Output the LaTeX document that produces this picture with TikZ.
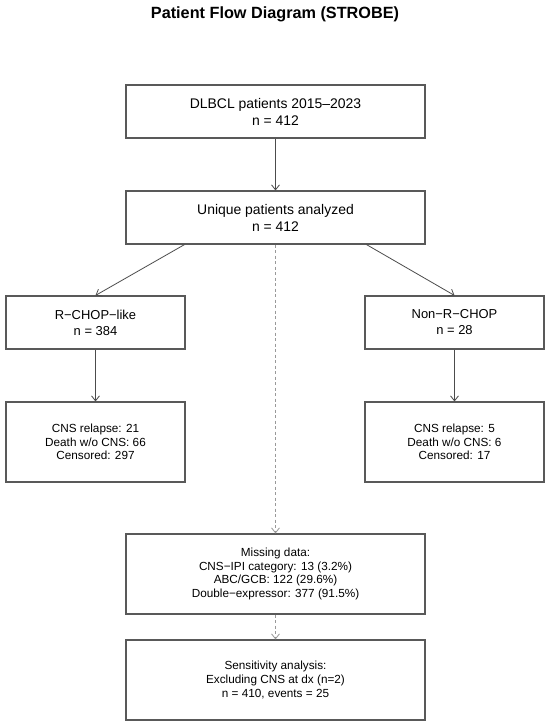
\documentclass[tikz,border=0pt]{standalone}
\usepackage{fontspec}
\setmainfont{Liberation Sans}
\usetikzlibrary{arrows.meta,calc}
\tikzset{
  box/.style={draw=black!65, line width=1.1bp, inner sep=0pt, align=center, fill=white},
  bigbox/.style={box, minimum width=299bp, minimum height=53bp, font=\fontsize{14}{17}\selectfont},
  midbox/.style={box, minimum width=179bp, minimum height=53bp, font=\fontsize{13}{16}\selectfont},
  smallbox/.style={box, minimum height=80bp, font=\fontsize{11.8}{13.8}\selectfont},
  flow/.style={draw=black!70, line width=0.8bp, -{Straight Barb[length=5bp,width=8bp]}},
  dflow/.style={draw=black!40, line width=0.8bp, dash pattern=on 3bp off 2.5bp, -{Straight Barb[length=5bp,width=8bp]}},
  titletext/.style={font=\fontsize{16.3}{19}\selectfont\bfseries}
}
\begin{document}
\begin{tikzpicture}[x=1bp, y=-1bp]
\useasboundingbox[fill=white] (0,0) rectangle (550,726);
\node[titletext] (title) at (275,14) {Patient Flow Diagram (STROBE)};
\node[bigbox] (b1) at (275.5,111.5) {DLBCL patients 2015–2023\\n = 412};
\node[bigbox] (b2) at (275.5,217.5) {Unique patients analyzed\\n = 412};
\node[midbox] (tl) at (95.5,322.5) {R−CHOP−like\\n = 384};
\node[midbox] (tr) at (454.5,322.5) {Non−R−CHOP\\n = 28};
\node[smallbox, minimum width=179bp] (ol) at (95.5,442) {CNS relapse: 21\\Death w/o CNS: 66\\Censored: 297};
\node[smallbox, minimum width=179bp] (or) at (454.5,442) {CNS relapse: 5\\Death w/o CNS: 6\\Censored: 17};
\node[smallbox, minimum width=299bp] (md) at (275.5,574) {Missing data:\\CNS−IPI category: 13 (3.2\%)\\ABC/GCB: 122 (29.6\%)\\Double−expressor: 377 (91.5\%)};
\node[smallbox, minimum width=299bp] (sa) at (275.5,680) {Sensitivity analysis:\\Excluding CNS at dx (n=2)\\n = 410, events = 25};
\coordinate (b2l) at ($(b2.south west)!0.197!(b2.south east)$);
\coordinate (b2r) at ($(b2.south west)!0.803!(b2.south east)$);
\draw[flow] (b1) -- (b2);
\draw[flow] (b2l) -- (tl.north);
\draw[flow] (b2r) -- (tr.north);
\draw[flow] (tl) -- (ol);
\draw[flow] (tr) -- (or);
\draw[dflow] (b2) -- (md);
\draw[dflow] (md) -- (sa);
\end{tikzpicture}
\end{document}
